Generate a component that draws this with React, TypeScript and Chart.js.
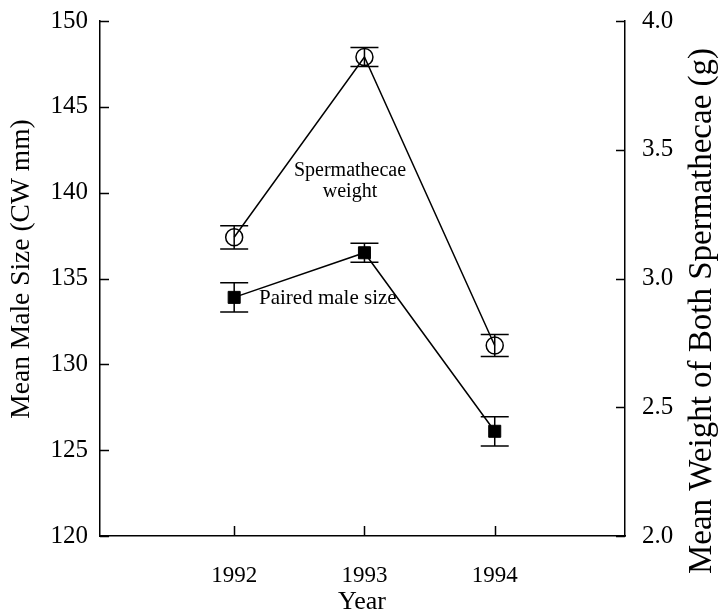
import React, { useEffect, useRef } from "react";
import { Chart, registerables } from "chart.js";

Chart.register(...registerables);

// Survey years
const years = [1992, 1993, 1994];

// Mean size of paired males (carapace width, mm) and standard errors
const maleSize = [133.9, 136.5, 126.1];
const maleSizeErr = [0.85, 0.55, 0.85];

// Mean weight of both spermathecae (g) and standard errors
const spermWeight = [3.16, 3.86, 2.74];
const spermWeightErr = [0.045, 0.037, 0.043];

// Axis ranges
const sizeRange = [120, 150];
const sizeStep = 5;
const weightRange = [2.0, 4.0];
const weightStep = 0.5;
const yearRange = [1990.97, 1995];

const FONT = '"Liberation Serif", "Times New Roman", serif';
const INK = "#000";

const errorsByAxis: Record<string, number[]> = {
  y: maleSizeErr,
  y2: spermWeightErr,
};

const errorBarsPlugin = {
  id: "errorBars",
  afterDatasetsDraw(chart: any) {
    const ctx = chart.ctx;
    const xs = chart.scales.x;
    ctx.save();
    ctx.strokeStyle = INK;
    ctx.lineWidth = 1.5;
    chart.data.datasets.forEach((ds: any) => {
      const ys = chart.scales[ds.yAxisID];
      const errs = errorsByAxis[ds.yAxisID];
      ds.data.forEach((p: any, j: number) => {
        const px = xs.getPixelForValue(p.x);
        const top = ys.getPixelForValue(p.y + errs[j]);
        const bot = ys.getPixelForValue(p.y - errs[j]);
        const cap = 14;
        ctx.beginPath();
        ctx.moveTo(px, top);
        ctx.lineTo(px, bot);
        ctx.moveTo(px - cap, top);
        ctx.lineTo(px + cap, top);
        ctx.moveTo(px - cap, bot);
        ctx.lineTo(px + cap, bot);
        ctx.stroke();
      });
    });
    ctx.restore();
  },
};

// Tick marks pointing into the plot area, plus titles and in-plot labels
const decorPlugin = {
  id: "decor",
  afterDraw(chart: any) {
    const ctx = chart.ctx;
    const { left, right, bottom } = chart.chartArea;
    const yL = chart.scales.y;
    const yR = chart.scales.y2;
    const xs = chart.scales.x;
    ctx.save();
    ctx.strokeStyle = INK;
    ctx.lineWidth = 1.5;
    ctx.beginPath();
    yL.ticks.forEach((t: any) => {
      const py = Math.round(yL.getPixelForValue(t.value)) + 0.5;
      ctx.moveTo(left, py);
      ctx.lineTo(left + 9, py);
    });
    yR.ticks.forEach((t: any) => {
      const py = Math.round(yR.getPixelForValue(t.value)) + 0.5;
      ctx.moveTo(right, py);
      ctx.lineTo(right - 9, py);
    });
    xs.ticks.forEach((t: any) => {
      const px = Math.round(xs.getPixelForValue(t.value)) + 0.5;
      ctx.moveTo(px, bottom);
      ctx.lineTo(px, bottom - 10);
    });
    ctx.stroke();

    ctx.fillStyle = INK;
    ctx.textBaseline = "middle";
    ctx.textAlign = "center";

    // axis titles
    ctx.font = `26px ${FONT}`;
    ctx.fillText("Year", 362, 602);

    ctx.font = `27.5px ${FONT}`;
    ctx.save();
    ctx.translate(22, 269);
    ctx.rotate(-Math.PI / 2);
    ctx.fillText("Mean Male Size (CW mm)", 0, 0);
    ctx.restore();

    ctx.font = `33px ${FONT}`;
    ctx.save();
    ctx.translate(702, 311);
    ctx.rotate(-Math.PI / 2);
    ctx.fillText("Mean Weight of Both Spermathecae (g)", 0, 0);
    ctx.restore();

    // series labels
    ctx.font = `20px ${FONT}`;
    ctx.fillText("Spermathecae", 350, 171);
    ctx.fillText("weight", 350, 192);
    ctx.font = `21px ${FONT}`;
    ctx.textAlign = "left";
    ctx.fillText("Paired male size", 259, 298);
    ctx.restore();
  },
};

// Keep the plot area edges fixed regardless of tick label heights
const flushY = (width: number) => (scale: any) => {
  scale.width = width;
  scale.paddingTop = 0;
  scale.paddingBottom = 0;
};

export default function App() {
  const canvasRef = useRef<HTMLCanvasElement | null>(null);

  useEffect(() => {
    const canvas = canvasRef.current;
    if (!canvas) return;

    const chart = new Chart(canvas, {
      type: "line",
      data: {
        datasets: [
          {
            label: "Spermathecae weight",
            yAxisID: "y2",
            data: years.map((yr, i) => ({ x: yr, y: spermWeight[i] })),
            borderColor: INK,
            borderWidth: 1.5,
            pointStyle: "circle",
            pointRadius: 8.5,
            pointBorderWidth: 1.5,
            pointBorderColor: INK,
            pointBackgroundColor: "rgba(0,0,0,0)",
            tension: 0,
          },
          {
            label: "Paired male size",
            yAxisID: "y",
            data: years.map((yr, i) => ({ x: yr, y: maleSize[i] })),
            borderColor: INK,
            borderWidth: 1.5,
            pointStyle: "rect",
            pointRadius: 8.5,
            pointBorderWidth: 1,
            pointBorderColor: INK,
            pointBackgroundColor: INK,
            tension: 0,
          },
        ],
      },
      options: {
        responsive: false,
        animation: false,
        layout: { padding: { top: 21, left: 0, right: 0, bottom: 0 } },
        plugins: {
          legend: { display: false },
          tooltip: { enabled: false },
        },
        scales: {
          x: {
            type: "linear",
            min: yearRange[0],
            max: yearRange[1],
            afterBuildTicks: (scale: any) => {
              scale.ticks = years.map((v) => ({ value: v }));
            },
            afterFit: (scale: any) => {
              scale.height = 78;
              scale.paddingLeft = 0;
              scale.paddingRight = 0;
            },
            grid: { display: false, drawTicks: false },
            border: { display: true, color: INK, width: 1.5 },
            ticks: {
              color: INK,
              font: { family: FONT, size: 23 },
              padding: 26,
              maxRotation: 0,
              callback: (v: any) => String(v),
            },
          },
          y: {
            type: "linear",
            position: "left",
            min: sizeRange[0],
            max: sizeRange[1],
            afterFit: flushY(100),
            grid: { display: false, drawTicks: false },
            border: { display: true, color: INK, width: 1.5 },
            ticks: {
              stepSize: sizeStep,
              color: INK,
              font: { family: FONT, size: 25 },
              padding: 12,
            },
          },
          y2: {
            type: "linear",
            position: "right",
            min: weightRange[0],
            max: weightRange[1],
            afterFit: flushY(98),
            grid: { display: false, drawTicks: false },
            border: { display: true, color: INK, width: 1.5 },
            ticks: {
              stepSize: weightStep,
              color: INK,
              font: { family: FONT, size: 25 },
              padding: 17,
              callback: (v: any) => Number(v).toFixed(1),
            },
          },
        },
      },
      plugins: [errorBarsPlugin, decorPlugin],
    });

    return () => chart.destroy();
  }, []);

  return (
    <div style={{ position: "fixed", left: 0, top: 0, width: 723, height: 614, background: "#fff" }}>
      <canvas ref={canvasRef} width={723} height={614} style={{ display: "block" }} />
    </div>
  );
}
